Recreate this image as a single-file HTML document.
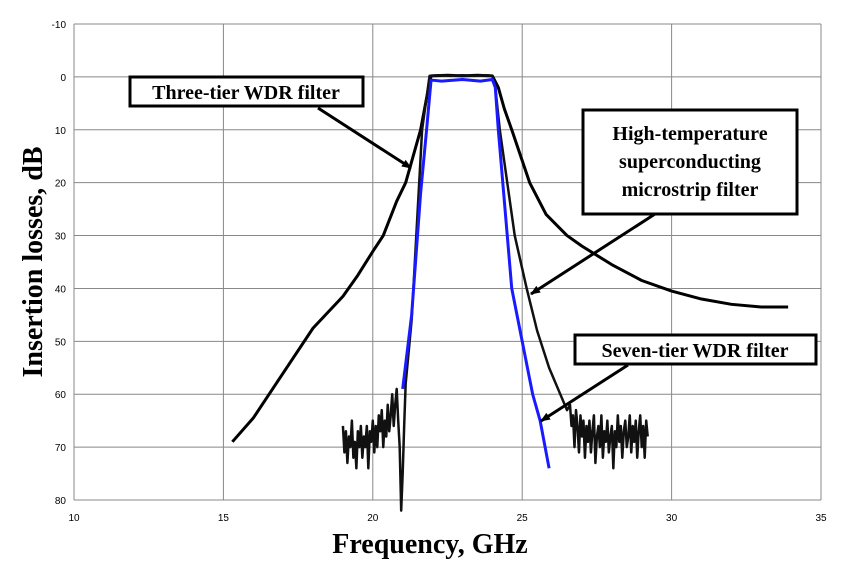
<!DOCTYPE html>
<html><head><meta charset="utf-8"><style>
body{margin:0;background:#fff}
svg{display:block}
.tk{font-family:"Liberation Sans",sans-serif;font-size:10px;fill:#000}
.lb{font-family:"Liberation Serif",serif;font-weight:bold;fill:#000}
</style></head><body>
<svg id="c" width="848" height="577" xmlns="http://www.w3.org/2000/svg">
<rect width="848" height="577" fill="#fff"/>
<g id="grid"></g>
<g id="series"></g>
<g>
<rect x="130" y="77" width="233" height="29" fill="#fff" stroke="#000" stroke-width="3"/>
<text class="lb" x="246" y="99" font-size="20" text-anchor="middle">Three-tier WDR filter</text>
</g>
<g>
<rect x="583" y="110" width="214" height="104" fill="#fff" stroke="#000" stroke-width="3"/>
<text class="lb" x="690" y="140" font-size="20" text-anchor="middle">High-temperature</text>
<text class="lb" x="690" y="168" font-size="20" text-anchor="middle">superconducting</text>
<text class="lb" x="690" y="196" font-size="20" text-anchor="middle">microstrip filter</text>
</g>
<g>
<rect x="575" y="335" width="241" height="29" fill="#fff" stroke="#000" stroke-width="3"/>
<text class="lb" x="695" y="357" font-size="20" text-anchor="middle">Seven-tier WDR filter</text>
</g>
<defs><marker id="ah" markerWidth="10" markerHeight="8" refX="9" refY="4" orient="auto" markerUnits="userSpaceOnUse"><path d="M0,0 L10,4 L0,8 z" fill="#000"/></marker></defs>
<line x1="318" y1="108" x2="411" y2="168" stroke="#000" stroke-width="3" marker-end="url(#ah)"/>
<line x1="655" y1="214" x2="531" y2="294" stroke="#000" stroke-width="3" marker-end="url(#ah)"/>
<line x1="628" y1="365" x2="541" y2="421" stroke="#000" stroke-width="3" marker-end="url(#ah)"/>
<text class="lb" x="430" y="553" font-size="28" text-anchor="middle">Frequency, GHz</text>
<text class="lb" transform="translate(42,262) rotate(-90)" font-size="28" text-anchor="middle">Insertion losses, dB</text>
</svg>
<script>
const xTicks=[10,15,20,25,30,35];
const yTicks=[-10,0,10,20,30,40,50,60,70,80];
const threeF=[15.3,16,17,18,19,19.5,20,20.35,20.8,21.1,21.4,21.6,21.8,21.95,22.5,23,23.5,24,24.2,24.4,24.65,25.25,25.8,26.5,27,28,29,30,31,32,33,33.9];
const threeV=[69,64.5,56,47.5,41.5,37.5,33,30,23.5,20,14,10,4,-0.2,-0.3,-0.2,-0.3,-0.2,2,6,10,20,26,30,32,35.5,38.5,40.5,42,43,43.5,43.5];
const htsNoiseLF=[19,19.05,19.1,19.15,19.2,19.25,19.3,19.35,19.4,19.45,19.5,19.55,19.6,19.65,19.7,19.75,19.8,19.85,19.9,19.95,20,20.05,20.1,20.15,20.2,20.25,20.3,20.35,20.4,20.45,20.5,20.55,20.6,20.65,20.7,20.75,20.8,20.85,20.9];
const htsNoiseLV=[66,71,67,73,68,70,65,72,69,74,67,70,66,72,68,70,66,74,67,69,65,71,66,70,64,67,63,70,65,68,62,67,64,60,66,62,59,65,70];
const htsMainF=[20.95,21,21.05,21.1,21.3,21.65,21.9,22.2,22.6,23,23.4,23.8,24,24.1,24.25,24.5,24.75,25.15,25.5,25.9,26.2,26.5];
const htsMainV=[82,75,66,58,46,10,-0.2,-0.3,-0.2,-0.3,-0.2,-0.3,-0.2,2,10,20,30,40,48,55,59,63];
const htsNoiseRF=[26.6,26.65,26.7,26.75,26.8,26.85,26.9,26.95,27,27.05,27.1,27.15,27.2,27.25,27.3,27.35,27.4,27.45,27.5,27.55,27.6,27.65,27.7,27.75,27.8,27.85,27.9,27.95,28,28.05,28.1,28.15,28.2,28.25,28.3,28.35,28.4,28.45,28.5,28.55,28.6,28.65,28.7,28.75,28.8,28.85,28.9,28.95,29,29.05,29.1,29.15,29.2];
const htsNoiseRV=[62,66,64,70,63,66,71,64,68,65,72,66,69,65,71,67,64,73,68,66,70,64,72,67,69,65,71,68,66,74,67,70,64,69,66,72,67,65,70,68,64,71,66,69,65,72,67,64,70,66,72,65,68];
const sevenF=[21,21.3,21.6,21.8,21.95,22.3,23,23.6,24,24.1,24.2,24.35,24.5,24.65,25,25.35,25.6,25.9];
const sevenV=[59,45,22,10,0.6,0.8,0.5,0.8,0.5,2,10,20,30,40,50,60,65,74];
const X0=74,X1=821,Y0=24,Y1=500;
const sx=f=>X0+(f-10)/25*(X1-X0);
const sy=v=>Y0+(v+10)/90*(Y1-Y0);
const NS='http://www.w3.org/2000/svg';
const g=document.getElementById('grid'),s=document.getElementById('series');
function mk(tag,at,par){const e=document.createElementNS(NS,tag);for(const k in at)e.setAttribute(k,at[k]);par.appendChild(e);return e;}
xTicks.forEach(t=>{
 const l=mk('line',{x1:sx(t),x2:sx(t),y1:Y0,y2:Y1,stroke:'#888','stroke-width':1},g);
 
 
 const tx=mk('text',{x:sx(t),y:521,class:'tk','text-anchor':'middle'},g);tx.textContent=t;
 
 
});
yTicks.forEach(t=>{
 const l=mk('line',{x1:X0,x2:X1,y1:sy(t),y2:sy(t),stroke:'#888','stroke-width':1},g);
 
 
 const tx=mk('text',{x:66,y:sy(t)+4,class:'tk','text-anchor':'end'},g);tx.textContent=t;
 
 
});
function line(F,V,col,w,name){
 const p=mk('polyline',{points:F.map((f,i)=>sx(f)+','+sy(V[i])).join(' '),fill:'none',stroke:col,'stroke-width':w,'stroke-linejoin':'round'},s);
 
 
}
line(threeF,threeV,'#000',3,'three-tier-line');
line(htsNoiseLF.concat(htsMainF,htsNoiseRF),htsNoiseLV.concat(htsMainV,htsNoiseRV),'#111',2.5,'hts-line');
line(sevenF,sevenV,'#1a1aff',3,'seven-tier-line');
</script>
</body></html>
